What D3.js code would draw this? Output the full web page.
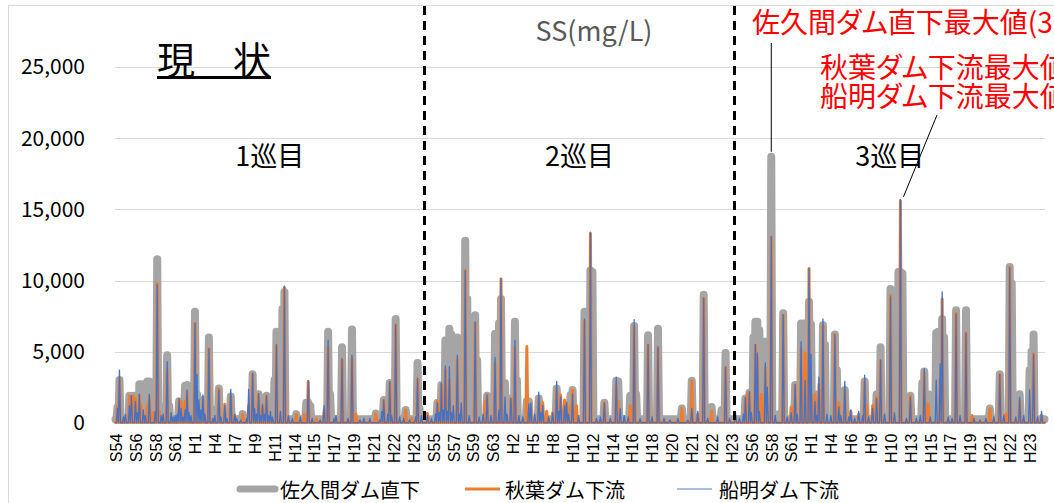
<!DOCTYPE html>
<html><head><meta charset="utf-8">
<script src="https://cdn.jsdelivr.net/npm/d3@7"></script>
<style>
html,body{margin:0;padding:0;background:#fff;overflow:hidden}
svg{display:block;font-family:"Noto Sans CJK JP","Noto Sans",sans-serif}
</style></head><body>
<svg id="chart" width="1054" height="503"></svg>
<script>
// SS (mg/L) below the three dams, three successive runs over S54–H23.
const recordCount = 936;
const runBreaks = [311, 623];                  // boundaries between runs (record units)
const runNames = ["1巡目", "2巡目", "3巡目"];
const tickEvery = 20;
const tickLabels = [
  "S54","S56","S58","S61","H1","H4","H7","H9","H11","H14","H15","H17","H19","H21","H22","H23",
  "S55","S57","S59","S63","H2","H5","H8","H10","H12","H14","H16","H18","H20","H21","H22","H23",
  "S56","S58","S61","H1","H4","H6","H9","H10","H13","H15","H17","H19","H21","H22","H23"
];
const yTicks = [0, 5000, 10000, 15000, 20000, 25000];
const seriesNames = ["佐久間ダム直下", "秋葉ダム下流", "船明ダム下流"];
const lowFlow = [250, 20, 10];                  // level between events for each station

// [record, SS] for each event
const sakumaPeaks = [
  [2,1100],[4,3000],[14,1900],[16,1800],[18,1900],[24,2700],[26,2700],[28,2400],[30,2000],[32,2900],[34,2900],[36,2600],[38,1500],
  [42,11500],[44,1200],[52,4750],[54,1200],[64,1500],[70,2600],[72,2650],[80,7800],[82,2000],[84,1200],[88,1600],[94,6000],[96,1000],
  [104,2400],[116,1850],[128,600],[138,3400],[144,2000],[152,1900],[160,3000],[162,6400],[164,6200],[166,6000],[168,8000],[170,9200],
  [182,600],[192,1400],[194,1400],[196,1200],[214,6400],[216,2000],[228,5300],[238,6550],[262,650],[270,1600],[276,2800],[282,7300],
  [292,900],[304,4200],[306,1000],
  [324,1400],[328,2650],[332,5800],[334,5600],[336,6600],[338,6200],[340,6000],[342,5800],[344,6000],[352,12800],[354,8700],[360,1000],
  [362,7550],[364,4400],[374,1900],[382,6250],[384,6000],[386,7000],[388,8700],[392,2800],[398,1700],[402,7100],[404,3000],[414,1500],
  [416,1500],[426,1700],[444,2400],[458,1950],[460,2300],[472,7800],[474,7500],[476,7000],[478,10700],[480,10600],[492,1400],
  [504,2950],[506,2900],[518,1900],[522,6800],[524,2000],[536,6150],[546,6600],[570,1000],[580,2950],[592,9000],[600,1100],[610,900],
  [614,4900],
  [634,1700],[638,2100],[642,6000],[644,7100],[646,7100],[648,6500],[650,5700],[652,5500],[654,5700],[656,3300],[660,18700],[668,600],
  [672,7700],[684,2650],[690,6980],[692,6500],[694,7000],[696,6800],[698,8500],[700,6900],[704,2000],[712,6850],[714,5500],[724,6200],
  [726,3700],[728,1400],[734,2300],[754,2900],[766,2000],[770,5300],[780,9400],[782,9200],[784,9000],[786,9000],[788,10600],
  [790,10600],[792,10500],[800,1900],[812,2800],[814,3600],[818,2000],[826,6300],[828,6400],[830,6400],[832,7300],[834,6000],
  [846,7900],[856,7900],[880,1000],[890,3400],[900,10950],[902,9800],[910,2000],[920,3700],[922,5000],[924,6200]
];
const akihaPeaks = [
  [2,1100],[4,3100],[14,1900],[16,1800],[18,1900],[20,1700],[24,1900],[26,1200],[32,1200],[34,1800],[38,700],[42,9800],[44,800],
  [52,3700],[64,1600],[66,1500],[70,1500],[72,2100],[80,7000],[88,1600],[94,5200],[104,2400],[110,1300],[116,1850],[120,500],[128,600],
  [134,1200],[138,3400],[144,2000],[148,1100],[152,1900],[162,5400],[170,9500],[182,600],[190,600],[194,2900],[202,300],[210,900],
  [214,5300],[228,4400],[238,4500],[242,600],[262,650],[270,1600],[276,2800],[282,6900],[292,900],[298,300],[304,3100],
  [314,650],[324,1500],[328,2650],[332,3700],[336,3000],[344,4500],[352,10700],[362,7000],[372,1500],[374,1950],[382,4200],
  [388,10100],[398,1700],[402,5300],[414,5350],[418,1000],[426,1700],[430,1400],[434,800],[440,700],[444,2400],[448,1950],
  [452,1600],[454,1400],[458,1200],[460,2300],[464,1200],[472,7100],[478,13300],[492,1400],[504,2650],[506,1500],[518,1200],
  [522,6700],[536,5450],[546,5200],[570,1000],[580,2950],[586,600],[592,8750],[600,800],[614,3900],
  [624,300],[634,1700],[636,2000],[638,2100],[644,5450],[646,4600],[650,2000],[654,3900],[660,13000],[672,7550],[680,1100],
  [684,2650],[690,5200],[694,4900],[698,10850],[700,2000],[704,2000],[708,2700],[712,6850],[724,6200],[728,1400],[734,2300],
  [740,800],[748,600],[754,2900],[756,1250],[762,1200],[766,1800],[770,4400],[780,8950],[790,15600],[800,1900],[814,3500],
  [818,1300],[830,3000],[832,8700],[846,7700],[856,6300],[862,500],[880,1000],[890,3400],[896,600],[900,10950],[910,1500],
  [924,4850],[932,500]
];
const funagiraPeaks = [
  [2,1000],[4,3700],[8,400],[10,600],[14,1200],[16,1900],[20,1500],[22,700],[24,2000],[28,900],[30,500],[34,2000],[40,800],[42,9700],
  [46,500],[48,600],[52,4300],[56,700],[58,400],[60,500],[62,600],[64,1700],[66,1000],[68,400],[70,900],[72,2300],[74,700],[76,500],
  [80,7000],[82,3400],[84,1600],[86,900],[88,1950],[90,600],[94,5200],[98,300],[100,500],[104,2300],[106,400],[110,1200],[112,300],
  [116,2350],[120,600],[122,300],[126,200],[132,300],[134,2350],[138,3500],[140,1000],[142,600],[144,2050],[146,500],[148,1300],[150,600],
  [152,1900],[154,500],[156,800],[158,400],[162,5500],[166,800],[170,9600],[174,500],[178,300],[186,400],[194,2950],[198,300],[206,200],
  [210,1200],[214,5800],[220,300],[222,500],[228,4500],[234,300],[238,4750],[246,200],[250,300],[256,300],[266,200],[268,800],
  [270,1600],[274,600],[276,2900],[278,500],[282,6900],[286,400],[290,300],[296,200],[302,400],[304,3100],[308,500],
  [314,500],[318,300],[322,600],[324,1400],[326,700],[328,2800],[330,900],[332,4000],[334,800],[336,3950],[338,700],[340,1200],
  [344,4750],[346,600],[348,1400],[352,10700],[356,500],[362,7100],[366,400],[370,600],[374,1950],[378,500],[382,4600],[386,900],
  [388,10150],[392,1800],[394,600],[398,1700],[402,5800],[406,500],[410,400],[416,1300],[418,1400],[422,600],[426,2150],[428,700],
  [430,1200],[436,400],[440,700],[444,2900],[446,800],[448,1800],[452,1200],[454,1400],[456,600],[460,2000],[466,500],[472,7300],
  [478,13400],[484,300],[488,400],[492,1400],[498,300],[504,3200],[508,1000],[512,500],[516,400],[522,7250],[528,300],[536,5500],
  [540,400],[546,5350],[552,300],[558,200],[566,300],[576,200],[580,1000],[586,800],[592,8750],[596,300],[606,400],[614,3900],[618,300],
  [624,700],[628,300],[632,600],[634,1800],[638,2200],[640,700],[644,5500],[646,4900],[648,800],[654,4200],[656,2500],[660,13100],
  [664,500],[672,7600],[676,400],[680,700],[684,2700],[686,600],[690,5700],[694,3000],[698,10850],[700,4800],[704,1500],[706,500],
  [708,3200],[712,7300],[716,600],[720,500],[724,6200],[728,1100],[730,500],[734,2900],[738,400],[740,900],[744,300],[748,800],
  [752,500],[754,3350],[758,400],[762,1000],[766,1700],[770,4400],[774,600],[780,8850],[784,700],[790,15700],[796,300],[800,1800],
  [806,300],[810,500],[814,3800],[820,400],[826,3000],[830,4150],[832,9200],[838,400],[842,300],[846,7650],[850,500],[856,6300],
  [864,300],[870,200],[876,300],[884,400],[890,3400],[894,500],[900,10900],[906,400],[910,1800],[914,500],[920,2300],[924,4800],
  [928,400],[932,800]
];

const svg = d3.select("#chart");
const plot = {left: 115, right: 1045, bottom: 422.7};

const x = d3.scaleLinear().domain([-0.5, recordCount - 0.5]).range([plot.left, plot.right]);
const y = d3.scaleLinear().domain([0, 25000]).range([plot.bottom, 67.2]);

// chart frame
svg.append("rect").attr("x", 8.5).attr("y", 5.5).attr("width", 1200).attr("height", 700)
  .attr("fill", "none").attr("stroke", "#d9d9d9").attr("stroke-width", 1);

// gridlines
svg.append("g").selectAll("line").data(yTicks).join("line")
  .attr("x1", plot.left).attr("x2", plot.right)
  .attr("y1", d => Math.round(y(d)) + 0.5).attr("y2", d => Math.round(y(d)) + 0.5)
  .attr("stroke", "#d9d9d9").attr("stroke-width", 1);

// y axis labels
const yAxis = svg.append("g").attr("transform", `translate(${plot.left},0)`)
  .call(d3.axisLeft(y).tickValues(yTicks).tickFormat(d3.format(",")).tickSize(0).tickPadding(30));
yAxis.select(".domain").remove();
yAxis.selectAll("text").attr("fill", "#000").style("font-size", "21px")
  .style("font-family", "'Noto Sans CJK JP', sans-serif");

// x axis labels (rotated)
const xAxis = svg.append("g").attr("transform", `translate(0,${plot.bottom})`)
  .call(d3.axisBottom(x).tickValues(tickLabels.map((_, k) => k * tickEvery))
    .tickFormat(d => tickLabels[d / tickEvery]).tickSize(0));
xAxis.select(".domain").remove();
xAxis.selectAll("text")
  .attr("transform", "rotate(-90)").attr("x", -11).attr("y", 0).attr("dy", "0.36em")
  .style("text-anchor", "end").style("font-family", "'Liberation Sans', Arial, sans-serif")
  .style("font-size", "16px").attr("fill", "#000");

// series: each station's record, low flow between listed events
function toSeries(peaks, base) {
  const v = new Array(recordCount).fill(base);
  peaks.forEach(([i, s]) => { v[i] = s; });
  return v;
}
const seriesData = [
  toSeries(sakumaPeaks, lowFlow[0]),
  toSeries(akihaPeaks, lowFlow[1]),
  toSeries(funagiraPeaks, lowFlow[2])
];
const seriesStyle = [
  {color: "#a5a5a5", width: 8},
  {color: "#ed7d31", width: 3},
  {color: "#4472c4", width: 1.3}
];
const line = d3.line().x((d, i) => x(i)).y(d => y(d));
svg.append("g").selectAll("path").data(seriesData).join("path")
  .attr("d", line).attr("fill", "none")
  .attr("stroke", (d, i) => seriesStyle[i].color)
  .attr("stroke-width", (d, i) => seriesStyle[i].width)
  .attr("stroke-linejoin", "round").attr("stroke-linecap", "round");

// run separators
svg.append("g").selectAll("line").data(runBreaks).join("line")
  .attr("x1", d => x(d)).attr("x2", d => x(d)).attr("y1", 6).attr("y2", plot.bottom)
  .attr("stroke", "#000").attr("stroke-width", 3).attr("stroke-dasharray", "9,6");

// run names
const runEdges = [-0.5, ...runBreaks, recordCount - 0.5];
svg.append("g").selectAll("text").data(runNames).join("text")
  .attr("x", (d, i) => x((runEdges[i] + runEdges[i + 1]) / 2)).attr("y", 154)
  .attr("text-anchor", "middle").attr("dominant-baseline", "central")
  .style("font-size", "27px").attr("fill", "#000").text(d => d);

// title
svg.append("text").attr("x", 594).attr("y", 29).attr("text-anchor", "middle")
  .attr("dominant-baseline", "central").style("font-size", "27px").attr("fill", "#595959")
  .text("SS(mg/L)");

// 現状 heading
svg.append("text").attr("x", 157).attr("y", 57).attr("dominant-baseline", "central")
  .style("font-size", "38px").attr("fill", "#000").text("現\u3000状");
svg.append("line").attr("x1", 157).attr("x2", 271).attr("y1", 77.5).attr("y2", 77.5)
  .attr("stroke", "#000").attr("stroke-width", 3);

// maximum-value notes
const notes = [
  {text: "佐久間ダム直下最大値(3巡目)", x: 752, y: 21},
  {text: "秋葉ダム下流最大値(3巡目)", x: 820, y: 66},
  {text: "船明ダム下流最大値(3巡目)", x: 820, y: 95}
];
svg.append("g").selectAll("text").data(notes).join("text")
  .attr("x", d => d.x).attr("y", d => d.y).attr("dominant-baseline", "central")
  .style("font-size", "28px").style("font-feature-settings", "'palt'")
  .attr("fill", "#ff0000").text(d => d.text);
const sakumaMaxIdx = d3.maxIndex(seriesData[0]);
const akihaMaxIdx = d3.maxIndex(seriesData[1]);
svg.append("line").attr("x1", x(sakumaMaxIdx)).attr("x2", x(sakumaMaxIdx))
  .attr("y1", 43).attr("y2", y(seriesData[0][sakumaMaxIdx]) - 5)
  .attr("stroke", "#000").attr("stroke-width", 1);
svg.append("line").attr("x1", 937).attr("y1", 115)
  .attr("x2", x(akihaMaxIdx) + 3).attr("y2", y(seriesData[1][akihaMaxIdx]) - 4)
  .attr("stroke", "#000").attr("stroke-width", 1);

// legend
const legendItems = [
  {x1: 240, x2: 275, tx: 280},
  {x1: 465, x2: 500, tx: 505},
  {x1: 677, x2: 712, tx: 719}
];
const lg = svg.append("g");
legendItems.forEach((d, i) => {
  lg.append("line").attr("x1", d.x1).attr("x2", d.x2).attr("y1", 489).attr("y2", 489)
    .attr("stroke", seriesStyle[i].color).attr("stroke-width", i === 0 ? 7 : i === 1 ? 3 : 1.3)
    .attr("stroke-linecap", i === 0 ? "round" : "butt")
    .attr("opacity", i === 2 ? 0.6 : 1);
  lg.append("text").attr("x", d.tx).attr("y", 489).attr("dominant-baseline", "central")
    .style("font-size", "20px").attr("fill", "#000").text(seriesNames[i]);
});
</script>
</body></html>
